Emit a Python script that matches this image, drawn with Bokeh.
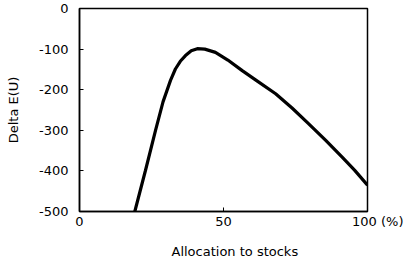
from bokeh.plotting import figure
from bokeh.models import Range1d, FixedTicker, Title
from bokeh.embed import file_html
from bokeh.resources import INLINE

alloc = [19.2, 22.9, 26.4, 29.0, 31.6, 33.3, 35.0, 36.8, 38.8, 40.9, 43.5, 47.2, 51.5, 56.5, 62.0, 68.1, 73.8, 79.6, 85.5, 91.2, 95.5, 100.0]
delta_eu = [-500, -399, -300, -230, -177, -149, -130, -116, -104, -99, -100, -108, -127, -153, -180, -210, -245, -284, -325, -366, -398, -435]

x_ticks = [0, 50, 100]
x_tick_labels = ["0", "50", "\u00a0\u00a0\u00a0\u00a0\u00a0100 (%)"]
y_ticks = [0, -100, -200, -300, -400, -500]
y_tick_labels = ["0", "-100", "-200", "-300", "-400", "-500"]

FONT = "DejaVu Sans"

p = figure(frame_width=288, frame_height=203, output_backend="svg", toolbar_location=None,
           x_range=Range1d(0, 100), y_range=Range1d(-500, 0),
           min_border_left=79, min_border_right=36, min_border_top=8, min_border_bottom=55)

p.line(alloc, delta_eu, line_color="black", line_width=3.2)

p.grid.visible = False
p.outline_line_color = "black"
p.outline_line_width = 1.5
p.background_fill_color = "white"
p.border_fill_color = "white"

for ax in (p.xaxis[0], p.yaxis[0]):
    ax.axis_line_color = "black"
    ax.axis_line_width = 1.5
    ax.major_tick_in = 4
    ax.major_tick_out = 0
    ax.minor_tick_line_color = None
    ax.major_tick_line_color = "black"
    ax.major_label_text_font = FONT
    ax.major_label_text_font_size = "13px"
    ax.major_label_text_color = "black"
    ax.axis_label_text_font = FONT
    ax.axis_label_text_font_size = "13px"
    ax.axis_label_text_font_style = "normal"
    ax.axis_label_text_color = "black"

p.xaxis.ticker = FixedTicker(ticks=x_ticks)
p.yaxis.ticker = FixedTicker(ticks=y_ticks)
p.xaxis.major_label_overrides = dict(zip(x_ticks, x_tick_labels))
p.yaxis.major_label_overrides = dict(zip(y_ticks, y_tick_labels))
p.xaxis.major_label_standoff = 2
p.yaxis.major_label_standoff = 11
p.yaxis.axis_label = "Delta E(U)"
p.yaxis.axis_label_standoff = 15

xt = Title(text="Allocation to stocks", align="left", offset=92, text_font=FONT,
           text_font_size="13px", text_font_style="normal", text_color="black", standoff=21)
p.add_layout(xt, "below")

open("out.html", "w").write(file_html(p, INLINE))
